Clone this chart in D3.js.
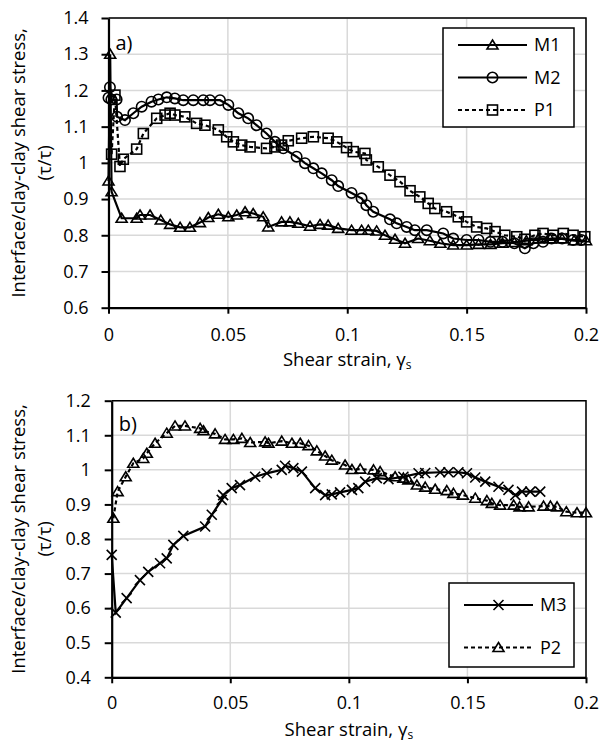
<!DOCTYPE html>
<html>
<head>
<meta charset="utf-8">
<script src="https://cdn.jsdelivr.net/npm/d3@7"></script>
<style>
  body { margin: 0; background: #fff; }
  text { font-family: "Open Sans", sans-serif; fill: #000; }
</style>
</head>
<body>
<div id="chart-area"></div>
<script>
// Data: [shear strain, stress ratio]
const m1 = [
  [0, 0.95], [0.0007, 1.30], [0.0013, 0.92], [0.0055, 0.847], [0.0118, 0.847], [0.0132, 0.856],
  [0.0174, 0.856], [0.0219, 0.842], [0.0258, 0.830], [0.030, 0.822], [0.0341, 0.822],
  [0.0383, 0.835], [0.0418, 0.849], [0.046, 0.858], [0.0502, 0.851], [0.0537, 0.856],
  [0.0572, 0.865], [0.0606, 0.860], [0.0648, 0.851], [0.0669, 0.823], [0.0725, 0.837],
  [0.076, 0.837], [0.0795, 0.833], [0.0844, 0.825], [0.0886, 0.830], [0.092, 0.828],
  [0.0962, 0.819], [0.1018, 0.814], [0.106, 0.814], [0.1088, 0.814], [0.1123, 0.812],
  [0.1158, 0.800], [0.120, 0.789], [0.1242, 0.778], [0.1297, 0.791], [0.1346, 0.785],
  [0.139, 0.778], [0.1444, 0.773], [0.150, 0.773], [0.155, 0.775], [0.160, 0.775],
  [0.165, 0.778], [0.170, 0.780], [0.175, 0.785], [0.180, 0.790], [0.185, 0.790],
  [0.190, 0.790], [0.195, 0.785], [0.200, 0.785]
];

const m2 = [
  [0, 1.18], [0.0006, 1.209], [0.0012, 1.175], [0.0034, 1.175], [0.0036, 1.127], [0.0069, 1.118],
  [0.0104, 1.137], [0.0139, 1.155], [0.018, 1.169], [0.0209, 1.175], [0.0244, 1.181],
  [0.0278, 1.178], [0.0313, 1.173], [0.0355, 1.173], [0.0397, 1.173], [0.0425, 1.173],
  [0.0467, 1.173], [0.0502, 1.160], [0.0544, 1.137], [0.0585, 1.123], [0.062, 1.104],
  [0.0662, 1.081], [0.0697, 1.058], [0.0732, 1.040], [0.0788, 1.017], [0.0823, 0.999],
  [0.0858, 0.985], [0.0893, 0.971], [0.0935, 0.952], [0.0962, 0.936], [0.1018, 0.917],
  [0.106, 0.902], [0.108, 0.883], [0.1109, 0.865], [0.1179, 0.844], [0.1207, 0.833],
  [0.1249, 0.823], [0.1283, 0.814], [0.1333, 0.814], [0.1402, 0.805], [0.1444, 0.791],
  [0.150, 0.787], [0.155, 0.787], [0.160, 0.782], [0.165, 0.782], [0.170, 0.778],
  [0.1744, 0.764], [0.178, 0.778], [0.182, 0.782], [0.1856, 0.791], [0.190, 0.791],
  [0.1946, 0.787], [0.198, 0.787]
];

const p1 = [
  [0.0013, 1.024], [0.0027, 1.187], [0.0048, 0.990], [0.0062, 1.010], [0.0118, 1.038],
  [0.0146, 1.081], [0.0202, 1.123], [0.0237, 1.132], [0.0258, 1.137], [0.0278, 1.132],
  [0.032, 1.127], [0.0369, 1.109], [0.0404, 1.104], [0.046, 1.091], [0.0495, 1.072],
  [0.0523, 1.058], [0.0558, 1.049], [0.0593, 1.044], [0.0662, 1.040], [0.0697, 1.044],
  [0.0725, 1.049], [0.0753, 1.061], [0.0809, 1.068], [0.0858, 1.072], [0.092, 1.068],
  [0.0956, 1.058], [0.0997, 1.042], [0.1025, 1.031], [0.1074, 1.026], [0.108, 1.008],
  [0.113, 0.989], [0.1179, 0.966], [0.1221, 0.948], [0.1263, 0.923], [0.1304, 0.906],
  [0.1339, 0.888], [0.1367, 0.874], [0.1416, 0.865], [0.1465, 0.851], [0.150, 0.837],
  [0.1542, 0.823], [0.1584, 0.819], [0.1619, 0.810], [0.166, 0.800], [0.171, 0.796],
  [0.1744, 0.789], [0.1786, 0.800], [0.182, 0.805], [0.1863, 0.800], [0.1905, 0.805],
  [0.1946, 0.800], [0.1995, 0.796]
];

const m3 = [
  [0, 0.754], [0.0017, 0.587], [0.0063, 0.629], [0.0119, 0.681], [0.0154, 0.705],
  [0.0204, 0.730], [0.0232, 0.744], [0.026, 0.783], [0.0302, 0.809], [0.0394, 0.836],
  [0.0422, 0.870], [0.0464, 0.913], [0.047, 0.927], [0.0506, 0.947], [0.0541, 0.956],
  [0.0605, 0.980], [0.0654, 0.990], [0.0717, 1.000], [0.0731, 1.012], [0.0766, 1.005],
  [0.0802, 0.995], [0.0858, 0.947], [0.090, 0.927], [0.0928, 0.929], [0.0963, 0.935],
  [0.1013, 0.942], [0.104, 0.947], [0.1069, 0.966], [0.1118, 0.976], [0.1167, 0.973],
  [0.123, 0.980], [0.1294, 0.990], [0.1322, 0.991], [0.1385, 0.993], [0.142, 0.993],
  [0.1462, 0.993], [0.1498, 0.990], [0.1533, 0.978], [0.1575, 0.966], [0.1631, 0.951],
  [0.1673, 0.942], [0.1702, 0.927], [0.173, 0.937], [0.1765, 0.937], [0.1807, 0.937]
];

const p2 = [
  [0.0007, 0.860], [0.0025, 0.937], [0.0059, 0.980], [0.0091, 1.019], [0.0133, 1.033],
  [0.0148, 1.048], [0.0183, 1.077], [0.0232, 1.106], [0.0267, 1.127], [0.0309, 1.127],
  [0.0373, 1.120], [0.0387, 1.113], [0.0436, 1.104], [0.0478, 1.088], [0.0513, 1.088],
  [0.0549, 1.091], [0.0584, 1.079], [0.0647, 1.081], [0.0661, 1.077], [0.0717, 1.083],
  [0.076, 1.077], [0.0795, 1.077], [0.083, 1.070], [0.0865, 1.055], [0.090, 1.040],
  [0.0928, 1.028], [0.0984, 1.014], [0.1013, 1.001], [0.1048, 1.002], [0.1104, 1.000],
  [0.1132, 0.995], [0.1195, 0.980], [0.123, 0.976], [0.1251, 0.971], [0.1287, 0.956],
  [0.1322, 0.950], [0.1364, 0.944], [0.1413, 0.940], [0.1441, 0.932], [0.1481, 0.927],
  [0.1533, 0.918], [0.1582, 0.911], [0.1603, 0.903], [0.1638, 0.898], [0.1695, 0.898],
  [0.172, 0.893], [0.1758, 0.893], [0.1821, 0.895], [0.185, 0.895], [0.1878, 0.893],
  [0.1917, 0.879], [0.1962, 0.876], [0.200, 0.876]
];

const xTicks = [0, 0.05, 0.1, 0.15, 0.2];
const yTicksA = [0.6, 0.7, 0.8, 0.9, 1, 1.1, 1.2, 1.3, 1.4];
const yTicksB = [0.4, 0.5, 0.6, 0.7, 0.8, 0.9, 1, 1.1, 1.2];

const svg = d3.select('#chart-area')
  .append('svg')
    .attr('width', 601)
    .attr('height', 744);

// marker shapes, hollow
const marker = {
  triangle: (g) => g.append('path').attr('d', 'M0,-5 L5.5,4 L-5.5,4 Z'),
  circle: (g) => g.append('circle').attr('r', 5.2),
  square: (g) => g.append('rect').attr('x', -5).attr('y', -5).attr('width', 10).attr('height', 10),
  cross: (g) => g.append('path').attr('d', 'M-5,-5 L5,5 M-5,5 L5,-5')
};

const tickFont = '18px';
const titleFont = '18.5px';

function panel(opt) {
  const w = opt.width, h = opt.height;
  const g = svg.append('g')
    .attr('transform', 'translate(' + opt.left + ',' + opt.top + ')');

  const x = d3.scaleLinear().domain([0, 0.2]).range([0, w]);
  const y = d3.scaleLinear().domain(opt.yDomain).range([h, 0]);

  // grid
  g.append('g').selectAll('line.h').data(opt.yTicks).enter().append('line')
    .attr('x1', 0).attr('x2', w)
    .attr('y1', d => y(d)).attr('y2', d => y(d))
    .attr('stroke', '#d9d9d9').attr('stroke-width', 1.5);
  g.append('g').selectAll('line.v').data(xTicks).enter().append('line')
    .attr('y1', 0).attr('y2', h)
    .attr('x1', d => x(d)).attr('x2', d => x(d))
    .attr('stroke', '#d9d9d9').attr('stroke-width', 1.5);

  // frame top/right
  g.append('path')
    .attr('d', 'M0,0 H' + w + ' V' + h)
    .attr('fill', 'none').attr('stroke', '#000').attr('stroke-width', 1.5);

  // axes
  const xAxisCall = d3.axisBottom(x).tickValues(xTicks).tickSizeInner(6).tickSizeOuter(0)
    .tickFormat(d => d === 0 ? '0' : d3.format('')(d));
  const xAxis = g.append('g')
    .attr('transform', 'translate(0,' + h + ')')
    .call(xAxisCall);
  xAxis.selectAll('text').attr('font-size', tickFont).attr('dy', 0).attr('y', opt.xTickY)
    .attr('font-family', '"Open Sans", sans-serif');

  const yAxisCall = d3.axisLeft(y).tickValues(opt.yTicks).tickSizeInner(7).tickSizeOuter(0)
    .tickFormat(d => d3.format('')(+d.toFixed(1)));
  const yAxis = g.append('g').call(yAxisCall);
  yAxis.selectAll('text').attr('font-size', tickFont).attr('x', opt.yTickX)
    .attr('font-family', '"Open Sans", sans-serif');

  [xAxis, yAxis].forEach(a => {
    a.select('.domain').attr('stroke', '#000').attr('stroke-width', 2.2);
    a.selectAll('.tick line').attr('stroke', '#000').attr('stroke-width', 2);
  });

  const line = d3.line().x(d => x(d[0])).y(d => y(d[1]));

  opt.series.forEach(s => {
    g.append('path')
      .datum(s.data)
      .attr('d', line)
      .attr('fill', 'none')
      .attr('stroke', '#000')
      .attr('stroke-width', 2.2)
      .attr('stroke-dasharray', s.dashed ? '4,3' : null);
    s.data.forEach(d => {
      const m = g.append('g').attr('transform', 'translate(' + x(d[0]) + ',' + y(d[1]) + ')');
      marker[s.shape](m).attr('fill', 'none').attr('stroke', '#000').attr('stroke-width', 1.6);
    });
  });

  // panel label
  g.append('text')
    .attr('x', 7).attr('y', opt.labelY)
    .attr('font-size', '20px')
    .text(opt.label);

  // axis titles
  const xt = g.append('text')
    .attr('x', w / 2).attr('y', h + opt.xTitleDy)
    .attr('text-anchor', 'middle')
    .attr('font-size', titleFont)
    .text('Shear strain, γ');
  xt.append('tspan').attr('font-size', '12px').attr('dy', 3).text('s');

  const yt = g.append('text')
    .attr('transform', 'translate(' + (-opt.left + 25) + ',' + (h / 2) + ') rotate(-90)')
    .attr('text-anchor', 'middle')
    .attr('font-size', titleFont);
  yt.append('tspan').attr('x', 0).attr('y', 0).text('Interface/clay-clay shear stress,');
  yt.append('tspan').attr('x', 0).attr('y', 26).text('(τ/τ)');

  // legend
  const lg = svg.append('g')
    .attr('transform', 'translate(' + opt.legend.x + ',' + opt.legend.y + ')');
  lg.append('rect')
    .attr('width', opt.legend.w).attr('height', opt.legend.h)
    .attr('fill', '#fff').attr('stroke', '#000').attr('stroke-width', 1.5);
  opt.series.forEach((s, i) => {
    const row = lg.append('g')
      .attr('transform', 'translate(0,' + (opt.legend.first + i * opt.legend.step) + ')');
    row.append('line')
      .attr('x1', 15).attr('x2', 84)
      .attr('stroke', '#000').attr('stroke-width', 2)
      .attr('stroke-dasharray', s.dashed ? '4,3' : null);
    const m = row.append('g').attr('transform', 'translate(49.5,0)');
    marker[s.shape](m).attr('fill', 'none').attr('stroke', '#000').attr('stroke-width', 1.6);
    row.append('text')
      .attr('x', 91).attr('y', 0).attr('dy', '0.36em')
      .attr('font-size', tickFont)
      .text(s.name);
  });
}

panel({
  left: 108.5, top: 18, width: 477.5, height: 289.7,
  yDomain: [0.6, 1.4], yTicks: yTicksA,
  label: 'a)', labelY: 32, xTitleDy: 58, xTickY: 33, yTickX: -20,
  series: [
    { name: 'M1', data: m1, shape: 'triangle', dashed: false },
    { name: 'M2', data: m2, shape: 'circle', dashed: false },
    { name: 'P1', data: p1, shape: 'square', dashed: true }
  ],
  legend: { x: 443, y: 28, w: 131, h: 99, first: 17, step: 32.5 }
});

panel({
  left: 111.7, top: 400.7, width: 474.3, height: 276.6,
  yDomain: [0.4, 1.2], yTicks: yTicksB,
  label: 'b)', labelY: 30, xTitleDy: 59, xTickY: 32, yTickX: -21,
  series: [
    { name: 'M3', data: m3, shape: 'cross', dashed: false },
    { name: 'P2', data: p2, shape: 'triangle', dashed: true }
  ],
  legend: { x: 449, y: 583, w: 125, h: 84, first: 22, step: 42.5 }
});
</script>
</body>
</html>
